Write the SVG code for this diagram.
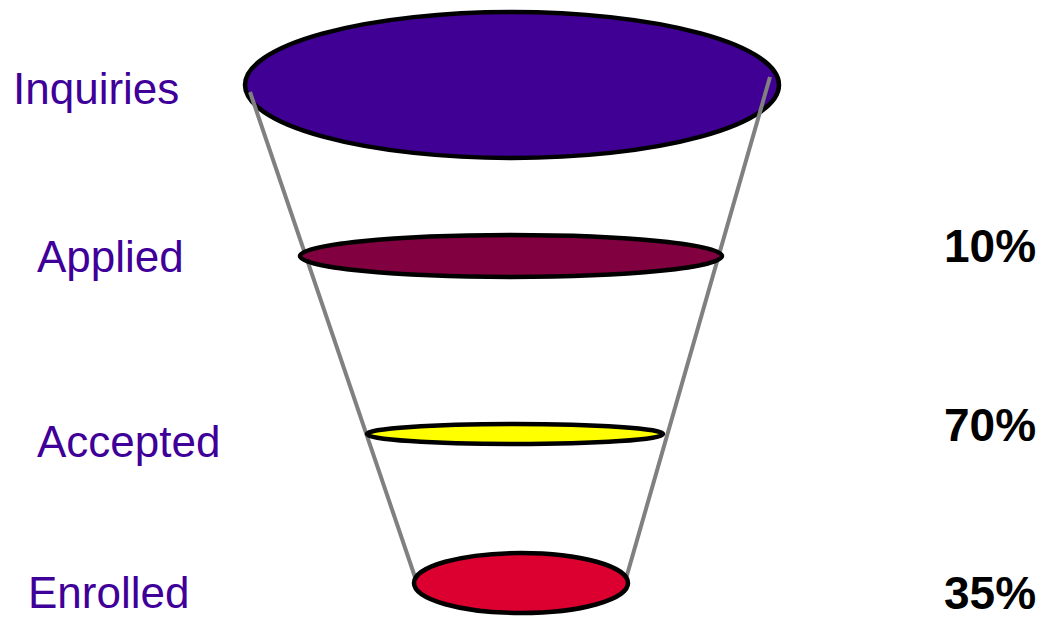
<svg xmlns="http://www.w3.org/2000/svg" width="1045" height="617" viewBox="0 0 1045 617">
<style>
.lbl{font-family:"Liberation Sans",Arial,sans-serif;font-size:44px;fill:#3f0099}
.pct{font-family:"Liberation Sans",Arial,sans-serif;font-size:46px;font-weight:bold;fill:#000}
.ring{stroke:#000;stroke-width:4.5}
.side{stroke:#808080;stroke-width:4;fill:none}
</style>
<rect width="1045" height="617" fill="#fff"/>
<g id="inquiries">
<ellipse class="ring" cx="512" cy="85" rx="267" ry="73" fill="#400094"/>
<text class="lbl" x="13" y="104">Inquiries</text>
</g>
<g id="connectors">
<line class="side" x1="250" y1="92" x2="416" y2="580"/>
<line class="side" x1="770" y1="77" x2="625" y2="582"/>
</g>
<g id="applied">
<ellipse class="ring" cx="511" cy="256" rx="211" ry="21" fill="#800040"/>
<text class="lbl" x="37" y="272">Applied</text>
<text class="pct" x="944" y="262">10%</text>
</g>
<g id="accepted">
<ellipse class="ring" cx="515" cy="434" rx="148" ry="10" fill="#ffff00"/>
<text class="lbl" x="37" y="457">Accepted</text>
<text class="pct" x="944" y="441">70%</text>
</g>
<g id="enrolled">
<ellipse class="ring" cx="521" cy="583" rx="107" ry="30" fill="#dc0030"/>
<text class="lbl" x="28" y="608">Enrolled</text>
<text class="pct" x="944" y="609">35%</text>
</g>
</svg>
